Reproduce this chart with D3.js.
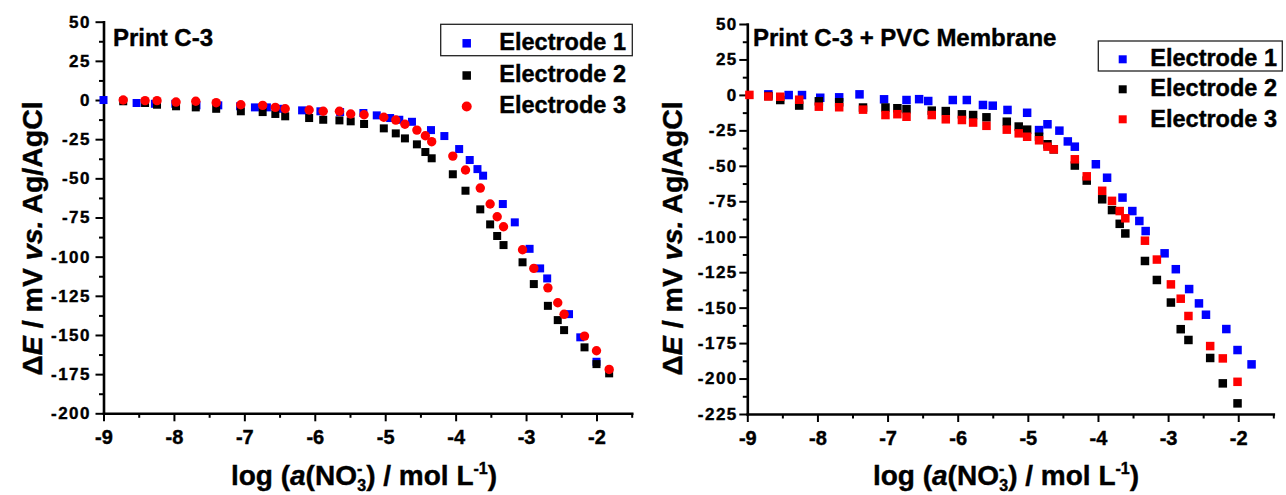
<!DOCTYPE html>
<html>
<head>
<meta charset="utf-8">
<script src="https://cdn.jsdelivr.net/npm/d3@7"></script>
<style>
  body { margin: 0; background: #fff; }
  text { font-family: "Liberation Sans", Arial, sans-serif; font-weight: bold; fill: #000; stroke: #000; stroke-width: 0.4px; }
</style>
</head>
<body>
<svg id="chart" width="1286" height="495"></svg>
<script>
// ---- data ----
const xTicks = [-9, -8, -7, -6, -5, -4, -3, -2];
const xMinorTicks = [-8.5, -7.5, -6.5, -5.5, -4.5, -3.5, -2.5, -1.5];
const leftYTicks = [50, 25, 0, -25, -50, -75, -100, -125, -150, -175, -200];
const rightYTicks = [50, 25, 0, -25, -50, -75, -100, -125, -150, -175, -200, -225];
const seriesNames = ["Electrode 1", "Electrode 2", "Electrode 3"];
const panelTitles = ["Print C-3", "Print C-3 + PVC Membrane"];

// Print C-3 : log a(NO3-) and potential change (mV)
const leftLogA1 = [-9.0, -8.53, -8.27, -7.98, -7.68, -7.37, -7.06, -6.85, -6.68, -6.49, -6.18, -5.92, -5.64, -5.31, -5.12, -4.93, -4.80, -4.62, -4.35, -4.16, -3.95, -3.80, -3.69, -3.61, -3.33, -3.16, -2.95, -2.80, -2.70, -2.39, -2.23, -2.00];
const leftE1 = [0, -1.9, -2.4, -2.4, -3.4, -3.4, -4.0, -4.7, -4.7, -5.6, -6.6, -7.2, -7.7, -8.3, -9.8, -11.5, -12.6, -13.9, -19.2, -23.0, -31.3, -38.3, -44.1, -48.3, -66.4, -78.1, -95.0, -107.5, -113.9, -136.7, -151.5, -167.1];
const leftLogA23 = [-8.72, -8.41, -8.24, -7.97, -7.69, -7.40, -7.05, -6.74, -6.56, -6.42, -6.08, -5.88, -5.65, -5.49, -5.30, -5.02, -4.85, -4.72, -4.55, -4.43, -4.34, -4.04, -3.86, -3.65, -3.51, -3.41, -3.32, -3.05, -2.89, -2.69, -2.55, -2.46, -2.17, -2.00, -1.82];
const leftE2 = [-0.8, -1.9, -3.0, -4.0, -4.7, -5.6, -7.2, -7.7, -8.9, -10.4, -11.5, -12.6, -13.0, -13.6, -15.3, -18.1, -21.3, -24.5, -28.3, -33.2, -37.2, -47.4, -57.9, -69.8, -79.4, -86.8, -92.6, -103.6, -117.5, -131.4, -140.5, -146.9, -157.9, -168.6, -174.5];
const leftE3 = [0, -0.4, -0.4, -1.3, -0.8, -1.7, -3.0, -3.4, -4.7, -5.6, -6.4, -7.2, -7.2, -8.9, -9.4, -11.0, -12.8, -15.5, -19.2, -22.8, -26.6, -35.8, -44.7, -56.2, -66.4, -74.5, -80.9, -95.6, -107.5, -119.9, -129.4, -136.8, -150.7, -160.1, -172.0];

// Print C-3 + PVC Membrane
const rightLogA1 = [-8.70, -8.41, -8.22, -7.96, -7.69, -7.40, -7.05, -6.73, -6.55, -6.42, -6.07, -5.87, -5.64, -5.50, -5.29, -5.01, -4.84, -4.72, -4.55, -4.43, -4.33, -4.03, -3.87, -3.65, -3.51, -3.41, -3.32, -3.05, -2.89, -2.70, -2.56, -2.46, -2.17, -2.01, -1.81];
const rightE1 = [0.4, -0.1, -0.1, -2.0, -1.7, 0.4, -3.1, -3.6, -3.0, -4.3, -3.6, -3.6, -7.1, -7.6, -10.6, -12.6, -24.8, -20.7, -25.2, -32.8, -36.5, -48.9, -58.4, -72.4, -81.9, -88.9, -96.0, -111.7, -122.9, -136.9, -147.0, -155.0, -165.1, -179.9, -190.0];
const rightLogA2 = [-8.70, -8.53, -8.26, -7.98, -7.69, -7.35, -7.03, -6.86, -6.73, -6.37, -6.17, -5.94, -5.78, -5.59, -5.30, -5.13, -5.01, -4.84, -4.72, -4.63, -4.33, -4.16, -3.94, -3.80, -3.69, -3.61, -3.33, -3.16, -2.96, -2.82, -2.71, -2.40, -2.22, -2.01];
const rightE2 = [-0.8, -3.6, -7.5, -4.5, -5.2, -8.9, -8.9, -9.4, -10.1, -11.1, -11.4, -13.7, -14.2, -15.8, -18.9, -22.3, -24.5, -29.5, -34.8, -38.4, -49.8, -60.4, -73.6, -81.2, -90.9, -97.7, -117.1, -130.5, -146.4, -165.2, -172.8, -185.5, -203.4, -217.5];
const rightLogA3 = [-8.97, -8.70, -8.53, -8.26, -7.98, -7.69, -7.35, -7.03, -6.86, -6.73, -6.37, -6.17, -5.94, -5.78, -5.59, -5.30, -5.13, -5.01, -4.84, -4.72, -4.63, -4.33, -4.16, -3.94, -3.80, -3.69, -3.61, -3.33, -3.16, -2.96, -2.82, -2.71, -2.40, -2.22, -2.01];
const rightE3 = [0, -1.1, -1.3, -3.4, -8.3, -8.7, -10.4, -14.2, -13.6, -15.4, -14.2, -17.2, -17.7, -19.5, -21.8, -24.5, -27.1, -29.5, -32.0, -36.5, -38.4, -45.4, -57.4, -67.6, -74.7, -81.9, -87.0, -102.8, -116.1, -133.6, -143.7, -155.9, -177.1, -185.8, -202.3];

const colors = ["#0000ff", "#000000", "#ff0000"];

// ---- layout ----
const panels = [
  {
    title: panelTitles[0], titleX: 113, titleY: 45.5,
    xRange: [103.5, 631.7], yRange: [413.3, 21.7], yDomain: [-200, 50], yTicks: leftYTicks,
    yPad: 4.5, yTitleX: 41.5, xTitleX: 364,
    series: [
      { x: leftLogA1, y: leftE1, shape: "square" },
      { x: leftLogA23, y: leftE2, shape: "square" },
      { x: leftLogA23, y: leftE3, shape: "circle" }
    ],
    markSize: 8, circleR: 4.7,
    legend: { box: [440.7, 24.3, 191.6, 31.4], markX: 466.7, markY: [43.3, 75.5, 106.5],
              textX: 626, textY: [50, 82.3, 113.3], size: 23.5, markSize: 8.5, circleR: 5 }
  },
  {
    title: panelTitles[1], titleX: 753, titleY: 45.5,
    xRange: [747.3, 1273.3], yRange: [414, 24], yDomain: [-225, 50], yTicks: rightYTicks,
    yPad: 1.5, yTitleX: 682, xTitleX: 1006,
    series: [
      { x: rightLogA1, y: rightE1, shape: "square" },
      { x: rightLogA2, y: rightE2, shape: "square" },
      { x: rightLogA3, y: rightE3, shape: "square" }
    ],
    markSize: 8.5, circleR: 4.7,
    legend: { box: [1098.3, 41, 184, 30], markX: 1122.7, markY: [59.3, 89.3, 119.3],
              textX: 1277, textY: [65.5, 96, 126.7], size: 23.5, markSize: 8, circleR: 5 }
  }
];

const svg = d3.select("#chart");
svg.append("rect").attr("width", 1286).attr("height", 495).attr("fill", "#fff");

function halfSteps(ticks) {
  const out = [];
  for (let i = 0; i < ticks.length - 1; i++) out.push((ticks[i] + ticks[i + 1]) / 2);
  return out;
}

function drawMark(sel, shape, cx, cy, color, size, r) {
  if (shape === "circle") {
    sel.append("circle").attr("cx", cx).attr("cy", cy).attr("r", r).attr("fill", color);
  } else {
    sel.append("rect").attr("x", cx - size / 2).attr("y", cy - size / 2)
      .attr("width", size).attr("height", size).attr("fill", color);
  }
}

panels.forEach(p => {
  const x = d3.scaleLinear().domain([-9, -1.5]).range(p.xRange);
  const y = d3.scaleLinear().domain(p.yDomain).range(p.yRange);
  const g = svg.append("g");
  const x0 = p.xRange[0], yBase = p.yRange[0];

  // minor ticks
  g.append("g").attr("transform", `translate(0,${yBase})`)
    .call(d3.axisBottom(x).tickValues(xMinorTicks).tickSize(4.5).tickSizeOuter(0).tickFormat(""))
    .call(a => a.select(".domain").remove())
    .call(a => a.selectAll("line").attr("stroke", "#000").attr("stroke-width", 2));
  g.append("g").attr("transform", `translate(${x0},0)`)
    .call(d3.axisLeft(y).tickValues(halfSteps(p.yTicks)).tickSize(4.5).tickSizeOuter(0).tickFormat(""))
    .call(a => a.select(".domain").remove())
    .call(a => a.selectAll("line").attr("stroke", "#000").attr("stroke-width", 2));

  // major x axis
  g.append("g").attr("transform", `translate(0,${yBase})`)
    .call(d3.axisBottom(x).tickValues(xTicks).tickSize(8).tickSizeOuter(0).tickPadding(9).tickFormat(d => String(d)))
    .call(a => a.select(".domain").attr("stroke", "#000").attr("stroke-width", 2.6).attr("stroke-linecap", "square"))
    .call(a => a.selectAll("line").attr("stroke", "#000").attr("stroke-width", 2))
    .call(a => a.selectAll("text").attr("font-size", 20).attr("font-family", "'Liberation Sans', Arial, sans-serif")
      .attr("font-weight", "bold").attr("fill", "#000"));

  // major y axis
  g.append("g").attr("transform", `translate(${x0},0)`)
    .call(d3.axisLeft(y).tickValues(p.yTicks).tickSize(8).tickSizeOuter(0).tickPadding(p.yPad).tickFormat(d => String(d)))
    .call(a => a.select(".domain").attr("stroke", "#000").attr("stroke-width", 2.6).attr("stroke-linecap", "square"))
    .call(a => a.selectAll("line").attr("stroke", "#000").attr("stroke-width", 2))
    .call(a => a.selectAll("text").attr("font-size", 17).attr("letter-spacing", 1.5)
      .attr("font-family", "'Liberation Sans', Arial, sans-serif").attr("font-weight", "bold").attr("fill", "#000"));

  // data points: Electrode 1, then 2, then 3 on top
  p.series.forEach((s, si) => {
    const sg = g.append("g");
    s.x.forEach((xv, i) => {
      drawMark(sg, s.shape, x(xv), y(s.y[i]), colors[si], p.markSize, p.circleR);
    });
  });

  // panel title
  g.append("text").attr("x", p.titleX).attr("y", p.titleY).attr("font-size", 24).text(p.title);

  // legend
  const L = p.legend;
  g.append("rect").attr("x", L.box[0]).attr("y", L.box[1]).attr("width", L.box[2]).attr("height", L.box[3])
    .attr("fill", "none").attr("stroke", "#222").attr("stroke-width", 1.3);
  p.series.forEach((s, si) => {
    drawMark(g, s.shape, L.markX, L.markY[si], colors[si], L.markSize, L.circleR);
    g.append("text").attr("x", L.textX).attr("y", L.textY[si]).attr("text-anchor", "end")
      .attr("font-size", L.size).text(seriesNames[si]);
  });

  // y axis title
  const yt = g.append("text").attr("transform", `translate(${p.yTitleX},238.5) rotate(-90)`)
    .attr("text-anchor", "middle").attr("font-size", 28.5);
  yt.append("tspan").text("\u0394");
  yt.append("tspan").attr("font-style", "italic").text("E");
  yt.append("tspan").text(" / mV ");
  yt.append("tspan").attr("font-style", "italic").text("vs.");
  yt.append("tspan").text(" Ag/AgCl");

  // x axis title
  const xt = g.append("text").attr("x", p.xTitleX).attr("y", 485).attr("text-anchor", "middle").attr("font-size", 28);
  xt.append("tspan").text("log (");
  xt.append("tspan").attr("font-style", "italic").text("a");
  xt.append("tspan").text("(NO");
  xt.append("tspan").attr("font-size", 16).attr("dy", -11).text("-");
  xt.append("tspan").attr("font-size", 16).attr("dx", -5).attr("dy", 17).text("3");
  xt.append("tspan").attr("dy", -6).text(") / mol L");
  xt.append("tspan").attr("font-size", 16).attr("dy", -11).text("-1");
  xt.append("tspan").attr("dy", 11).text(")");
});
</script>
</body>
</html>
